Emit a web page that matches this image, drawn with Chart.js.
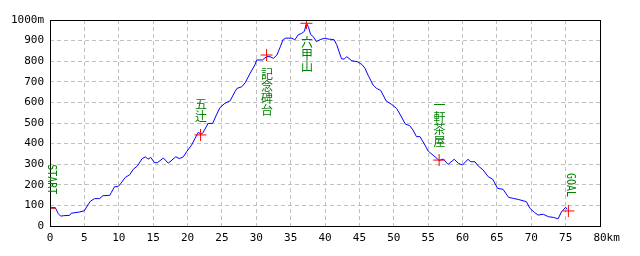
<!DOCTYPE html>
<html>
<head>
<meta charset="utf-8">
<script src="https://cdn.jsdelivr.net/npm/chart.js@4/dist/chart.umd.min.js"></script>
<style>
html,body{margin:0;padding:0;background:#fff;}
#c{display:block;background:#fff;}
</style>
</head>
<body>
<canvas id="c" width="640" height="256"></canvas>
<script>
// Course profile: distance (km) and elevation (m)
const distKm = [0,0.77,1.2,1.55,2.0,2.86,3.1,4.3,5.0,5.5,5.9,6.5,7.2,7.7,8.7,8.9,9.4,9.9,10.3,10.95,11.6,12.1,12.7,13.4,13.9,14.25,14.65,15.2,15.6,16.5,17.2,18.3,18.8,19.4,19.9,20.6,21.1,21.6,21.9,22.2,23.0,23.65,24.2,24.7,25.45,26.2,26.9,27.2,27.9,28.4,29.1,29.8,30.06,30.9,31.5,32.0,32.5,33.0,33.5,33.9,34.3,35.2,35.6,36.1,36.6,37.0,37.3,37.6,37.9,38.3,38.75,39.3,39.9,40.6,41.3,41.7,42.4,42.8,43.15,43.9,44.7,45.4,45.8,46.3,47.0,47.5,48.1,48.9,49.7,50.4,50.9,51.7,52.3,52.8,53.3,53.8,54.4,55.0,56.0,56.6,57.2,57.9,58.8,59.4,60.0,60.8,61.2,61.8,62.3,63.0,63.75,64.4,65.1,65.9,66.7,67.4,68.1,69.3,69.8,70.5,71.0,71.75,72.5,73.2,73.9,74.4,75.0,75.2];
const elevM = [89,89,60,48,50,52,62,68,74,102,121,133,133,147,149,162,191,191,207,236,249,275,291,327,336,324,333,308,307,330,305,336,327,336,362,393,426,456,445,450,498,498,539,574,596,608,652,668,676,696,741,782,806,806,822,822,814,830,870,905,912,912,903,928,935,945,984,965,930,919,895,905,911,907,905,880,812,810,822,802,798,783,766,730,684,668,658,607,590,571,543,494,488,466,434,434,401,364,336,318,325,299,324,304,296,324,312,312,291,272,239,227,183,178,139,134,129,118,86,65,53,57,45,42,35,69,91,81];

// Waypoints
const pointNames = ["START","五辻","記念碑台","六甲山","一軒茶屋","GOAL"];
const pointKm    = [0,21.9,31.5,37.3,56.6,75.4];
const pointElev  = [86,442,830,984,320,73];
const labelSide  = ["up","up","down","down","up","up"];

// Axis ticks
const xMax = 80, xStep = 5;
const yMax = 1000, yStep = 100;
const xUnit = "km", yUnit = "m";

const profileData = distKm.map((k,i)=>({x:k,y:elevM[i]}));
const markerData = pointKm.map((k,i)=>({x:k,y:pointElev[i]}));

const tickFont = {family:"'DejaVu Sans Mono', monospace", size:11};

const overlay = {
  id:'overlay',
  afterDatasetsDraw(chart){
    const ctx = chart.ctx, a = chart.chartArea;
    const xs = chart.scales.x, ys = chart.scales.y;
    ctx.save();
    ctx.strokeStyle = '#000';
    ctx.lineWidth = 1;
    ctx.setLineDash([]);
    ctx.strokeRect(Math.round(a.left)+0.5, Math.round(a.top)+0.5, Math.round(a.right-a.left), Math.round(a.bottom-a.top));
    ctx.fillStyle = '#008000';
    pointNames.forEach((name,i)=>{
      const px = xs.getPixelForValue(pointKm[i]);
      const py = ys.getPixelForValue(pointElev[i]);
      const latin = /^[\x00-\x7f]+$/.test(name);
      if (latin) {
        ctx.save();
        ctx.font = "12px 'DejaVu Sans Mono', monospace";
        const endY = labelSide[i]==='up' ? py-14 : py+14;
        ctx.translate(px+1.5, endY);
        ctx.rotate(Math.PI/2);
        ctx.textBaseline = 'middle';
        ctx.textAlign = labelSide[i]==='up' ? 'right' : 'left';
        ctx.fillText(name, 0, 0, name.length*6);
        ctx.restore();
      } else {
        ctx.font = "12px 'Noto Sans CJK JP', sans-serif";
        ctx.textAlign = 'center';
        ctx.textBaseline = 'top';
        const chars = Array.from(name);
        const step = 12;
        const y0 = labelSide[i]==='up' ? py-13-chars.length*step : py+13;
        chars.forEach((ch,j)=>ctx.fillText(ch, px+0.5, y0+j*step));
      }
    });
    ctx.restore();
  }
};

new Chart(document.getElementById('c'), {
  type:'scatter',
  data:{
    datasets:[
      {
        label:'points',
        data:markerData,
        pointStyle:'cross',
        pointRadius:6,
        borderColor:'#ff0000',
        backgroundColor:'#ff0000',
        borderWidth:1,
        showLine:false
      },
      {
        label:'profile',
        data:profileData,
        showLine:true,
        borderColor:'#0000ff',
        borderWidth:1,
        pointRadius:0,
        tension:0,
        fill:false
      }
    ]
  },
  options:{
    responsive:false,
    animation:false,
    events:[],
    layout:{padding:{top:20,right:40,left:0,bottom:0}},
    plugins:{legend:{display:false},tooltip:{enabled:false}},
    scales:{
      x:{
        type:'linear', min:0, max:xMax,
        afterFit(s){ s.height = 30; },
        ticks:{stepSize:xStep, padding:6, color:'#000', font:tickFont, maxRotation:0, autoSkip:false,
          callback:v => v===xMax ? '  '+v+xUnit : String(v)},
        grid:{color:'#c0c0c0', lineWidth:1, drawTicks:false},
        border:{display:false, dash:[4,3]}
      },
      y:{
        type:'linear', min:0, max:yMax,
        afterFit(s){ s.width = 50; },
        ticks:{stepSize:yStep, padding:6, color:'#000', font:tickFont, autoSkip:false,
          callback:v => v===yMax ? v+yUnit : String(v)},
        grid:{color:'#c0c0c0', lineWidth:1, drawTicks:false},
        border:{display:false, dash:[4,3]}
      }
    }
  },
  plugins:[overlay]
});
</script>
</body>
</html>
